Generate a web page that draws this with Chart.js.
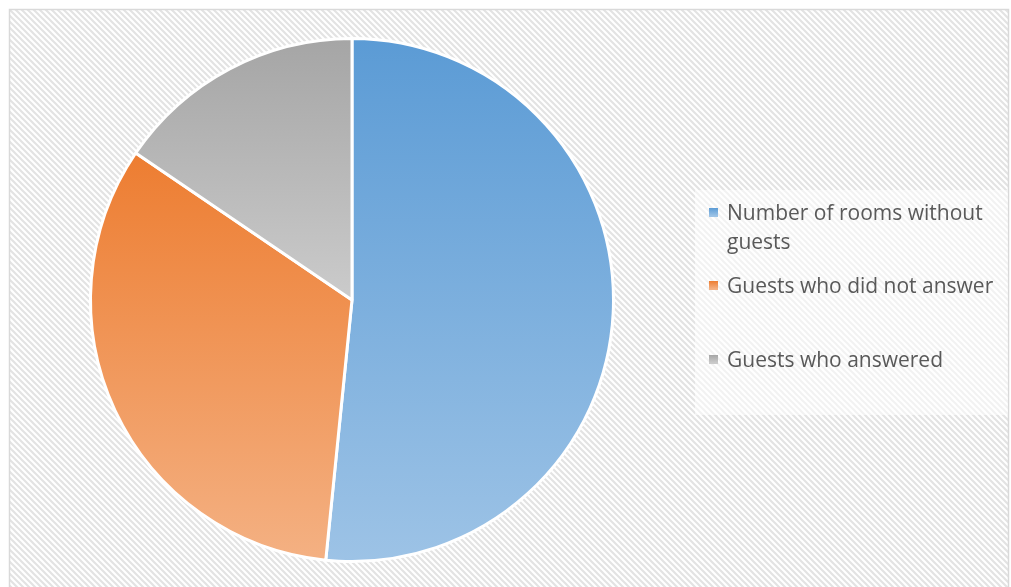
<!DOCTYPE html>
<html>
<head>
<meta charset="utf-8">
<script src="https://cdn.jsdelivr.net/npm/chart.js@4"></script>
<style>
  html, body { margin: 0; padding: 0; background: #fff; }
  #wrap { width: 1011px; height: 587px; }
</style>
</head>
<body>
<div id="wrap"><canvas id="pieChart" width="1011" height="587"></canvas></div>
<script>
// dữ liệu của biểu đồ
const categories = ["Number of rooms without guests", "Guests who did not answer", "Guests who answered"];
const values = [51.6, 32.9, 15.5];
// màu trên và dưới của từng miếng (gradient)
const topColors = ["#5B9BD5", "#ED7D31", "#A5A5A5"];
const bottomColors = ["#9DC3E6", "#F4B183", "#CBCBCB"];
// dòng chữ của legend (chữ dài bị xuống dòng)
const legendLines = [["Number of rooms without", "guests"], ["Guests who did not answer"], ["Guests who answered"]];

// tính khoảng y của từng miếng để làm gradient
function sliceGradient(context) {
  const chart = context.chart;
  const area = chart.chartArea;
  if (!area) return topColors[context.dataIndex];
  const i = context.dataIndex;
  const total = values.reduce((a, b) => a + b, 0);
  let start = -Math.PI / 2;
  for (let k = 0; k < i; k++) start += values[k] / total * Math.PI * 2;
  const end = start + values[i] / total * Math.PI * 2;
  const cx = (area.left + area.right) / 2;
  const cy = (area.top + area.bottom) / 2;
  const r = Math.min(area.right - area.left, area.bottom - area.top) / 2;
  const ys = [cy, cy + r * Math.sin(start), cy + r * Math.sin(end)];
  // nếu miếng đi qua đỉnh hoặc đáy của hình tròn
  for (const a of [-Math.PI / 2, Math.PI / 2, Math.PI * 1.5]) {
    if (a >= start && a <= end) ys.push(cy + r * Math.sin(a));
  }
  const y0 = Math.min(...ys), y1 = Math.max(...ys);
  const g = chart.ctx.createLinearGradient(0, y0, 0, y1);
  g.addColorStop(0, topColors[i]);
  g.addColorStop(1, bottomColors[i]);
  return g;
}

// nền kẻ sọc chéo + khung
const backgroundPlugin = {
  id: "hatchBackground",
  beforeDraw(chart) {
    const ctx = chart.ctx;
    const tile = document.createElement("canvas");
    tile.width = 6; tile.height = 6;
    const t = tile.getContext("2d");
    t.fillStyle = "#ffffff";
    t.fillRect(0, 0, 6, 6);
    t.strokeStyle = "#e3e3e3";
    t.lineWidth = 2.2;
    t.beginPath();
    t.moveTo(-1, -1); t.lineTo(7, 7);
    t.moveTo(-4, 2); t.lineTo(4, 10);
    t.moveTo(2, -4); t.lineTo(10, 4);
    t.stroke();
    ctx.save();
    ctx.fillStyle = "#ffffff";
    ctx.fillRect(0, 0, chart.width, chart.height);
    ctx.fillStyle = ctx.createPattern(tile, "repeat");
    ctx.fillRect(10, 10, 998, 580);
    ctx.strokeStyle = "#d9d9d9";
    ctx.lineWidth = 1.5;
    ctx.strokeRect(9.5, 9.5, 999, 590);
    // nền legend
    ctx.fillStyle = "rgba(255,255,255,0.55)";
    ctx.fillRect(695, 190, 313, 225);
    ctx.restore();
  }
};

// legend tự vẽ
const legendPlugin = {
  id: "customLegend",
  afterDraw(chart) {
    const ctx = chart.ctx;
    const baselines = [[220, 249], [293], [367]];
    ctx.save();
    ctx.font = "21px 'Open Sans', sans-serif";
    ctx.textBaseline = "alphabetic";
    for (let i = 0; i < categories.length; i++) {
      const my = baselines[i][0] - 12;
      const g = ctx.createLinearGradient(0, my, 0, my + 8);
      g.addColorStop(0, topColors[i]);
      g.addColorStop(1, bottomColors[i]);
      ctx.fillStyle = g;
      ctx.fillRect(709, my, 9, 9);
      ctx.fillStyle = "#595959";
      legendLines[i].forEach((line, j) => {
        ctx.fillText(line, 727, baselines[i][j]);
      });
    }
    ctx.restore();
  }
};

const ctx = document.getElementById("pieChart").getContext("2d");
const myChart = new Chart(ctx, {
  type: "pie",
  data: {
    labels: categories,
    datasets: [{
      data: values,
      backgroundColor: sliceGradient,
      borderColor: "#ffffff",
      borderWidth: 3
    }]
  },
  options: {
    responsive: false,
    animation: false,
    layout: { padding: { left: 88, right: 395, top: 37, bottom: 24 } },
    plugins: {
      legend: { display: false },
      tooltip: { enabled: false }
    }
  },
  plugins: [backgroundPlugin, legendPlugin]
});
</script>
</body>
</html>
